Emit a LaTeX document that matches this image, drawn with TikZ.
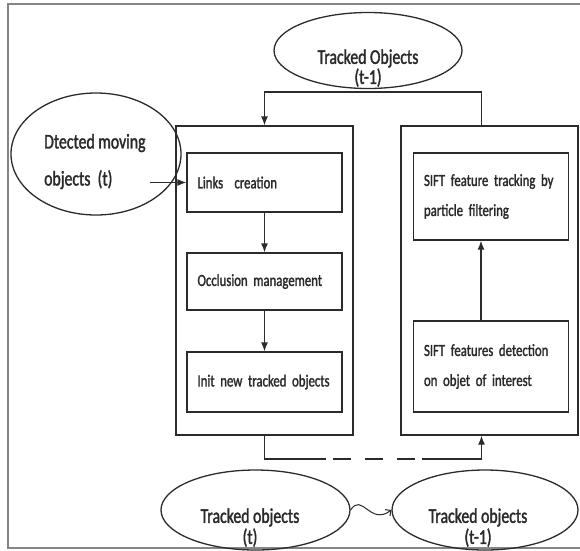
\documentclass[tikz,border=0pt]{standalone}
\usepackage{fontspec}
\setmainfont{Carlito}[FakeStretch=0.75,FakeBold=1.6]
\usepackage{tikz}
\usetikzlibrary{shapes.geometric,arrows.meta}

\definecolor{linegray}{HTML}{2B2B2B}
\definecolor{framegray}{HTML}{858585}
\definecolor{textgray}{HTML}{2A2A2A}

\tikzset{
	oval/.style={ellipse, draw=linegray, line width=1.3pt, inner sep=0pt},
	bigbox/.style={draw=linegray, line width=1.3pt, minimum width=177pt, minimum height=309pt, inner sep=0pt},
	stepbox/.style={draw=linegray, line width=1.3pt, minimum width=155pt, text width=134pt, align=left, inner xsep=10.5pt, inner ysep=0pt, font=\fontsize{17}{30}\selectfont, text=textgray},
	ovaltext/.style={font=\fontsize{21}{20}\selectfont, align=center, text=textgray, inner sep=0pt},
	link/.style={draw=linegray, line width=1.3pt},
}

\begin{document}
\begin{tikzpicture}[x=1pt, y=-1pt, >={Latex[length=9pt,width=7pt]}]
	\useasboundingbox (0,0) rectangle (580,550);
	\draw[framegray, line width=1.3pt] (580,4) -- (8,4) -- (8,548) -- (580,548);

		\node[bigbox] (lbox) at (264.5,280.5){};
		\node[bigbox] (rbox) at (489.5,280.5){};

		\node[stepbox, minimum height=59pt] (links) at (264.5,182.5){Links\ \ creation};
		\node[stepbox, minimum height=57pt] (occl) at (264.5,281.5){Occlusion management};
		\node[stepbox, minimum height=60pt] (init) at (264.5,382){Init new\ tracked objects};

		\node[stepbox, minimum height=87pt] (track) at (491,196.5){SIFT feature tracking by\\particle filtering};
		\node[stepbox, minimum height=91pt] (detect) at (491,366.5){SIFT features detection\\on objet of interest};

	\node[oval, minimum width=188pt, minimum height=76pt] (prevtop) at (368,50.5){};
	\node[ovaltext] (prevtoptxt) at (368,68){Tracked Objects\\(t-1)};

	\node[oval, minimum width=170pt, minimum height=122pt] (detected) at (96,154){};
	\node[ovaltext, align=left, font=\fontsize{21}{37}\selectfont, anchor=west] (detectedtxt) at (44,161.5){Dtected moving\\objects\ \ (t)};

	\node[oval, minimum width=189pt, minimum height=80pt] (tobj) at (255.5,510){};
	\node[ovaltext, font=\fontsize{21}{21}\selectfont] (tobjtxt) at (250,527.5){Tracked objects\\(t)};
	\node[oval, minimum width=186pt, minimum height=80pt] (tprev) at (485,510){};
	\node[ovaltext, font=\fontsize{21}{21}\selectfont] (tprevtxt) at (478,527.5){Tracked objects\\(t-1)};

	\coordinate (tbar) at (370,92);
	\coordinate (dstart) at (150,182.5);
	\coordinate (dl) at (326,459);
	\coordinate (dl2) at (333,459);
	\coordinate (dr2) at (415,459);
	\coordinate (dr) at (422,459);

	\draw[link,->] ([xshift=-8pt]rbox.north) |- (tbar) -| (lbox.north);
	\draw[link,->] (dstart) -- (links.west);
	\draw[link,->] (links) -- (occl);
	\draw[link,->] (occl) -- (init);
	\draw[link,->] ([xshift=-10pt]detect.north) -- ([xshift=-10pt]track.south);

	\draw[link] (lbox.south) |- (dl);
	\draw[link, dash pattern=on 18pt off 14pt] (dl2) -- (dr2);
	\draw[link,->] (dr) -| ([xshift=-8pt]rbox.south);

	\draw[link, line width=1pt, -{Straight Barb[length=4pt]}] (tobj.east) .. controls (362,492) and (370,526) .. (tprev.west);

\end{tikzpicture}
\end{document}
